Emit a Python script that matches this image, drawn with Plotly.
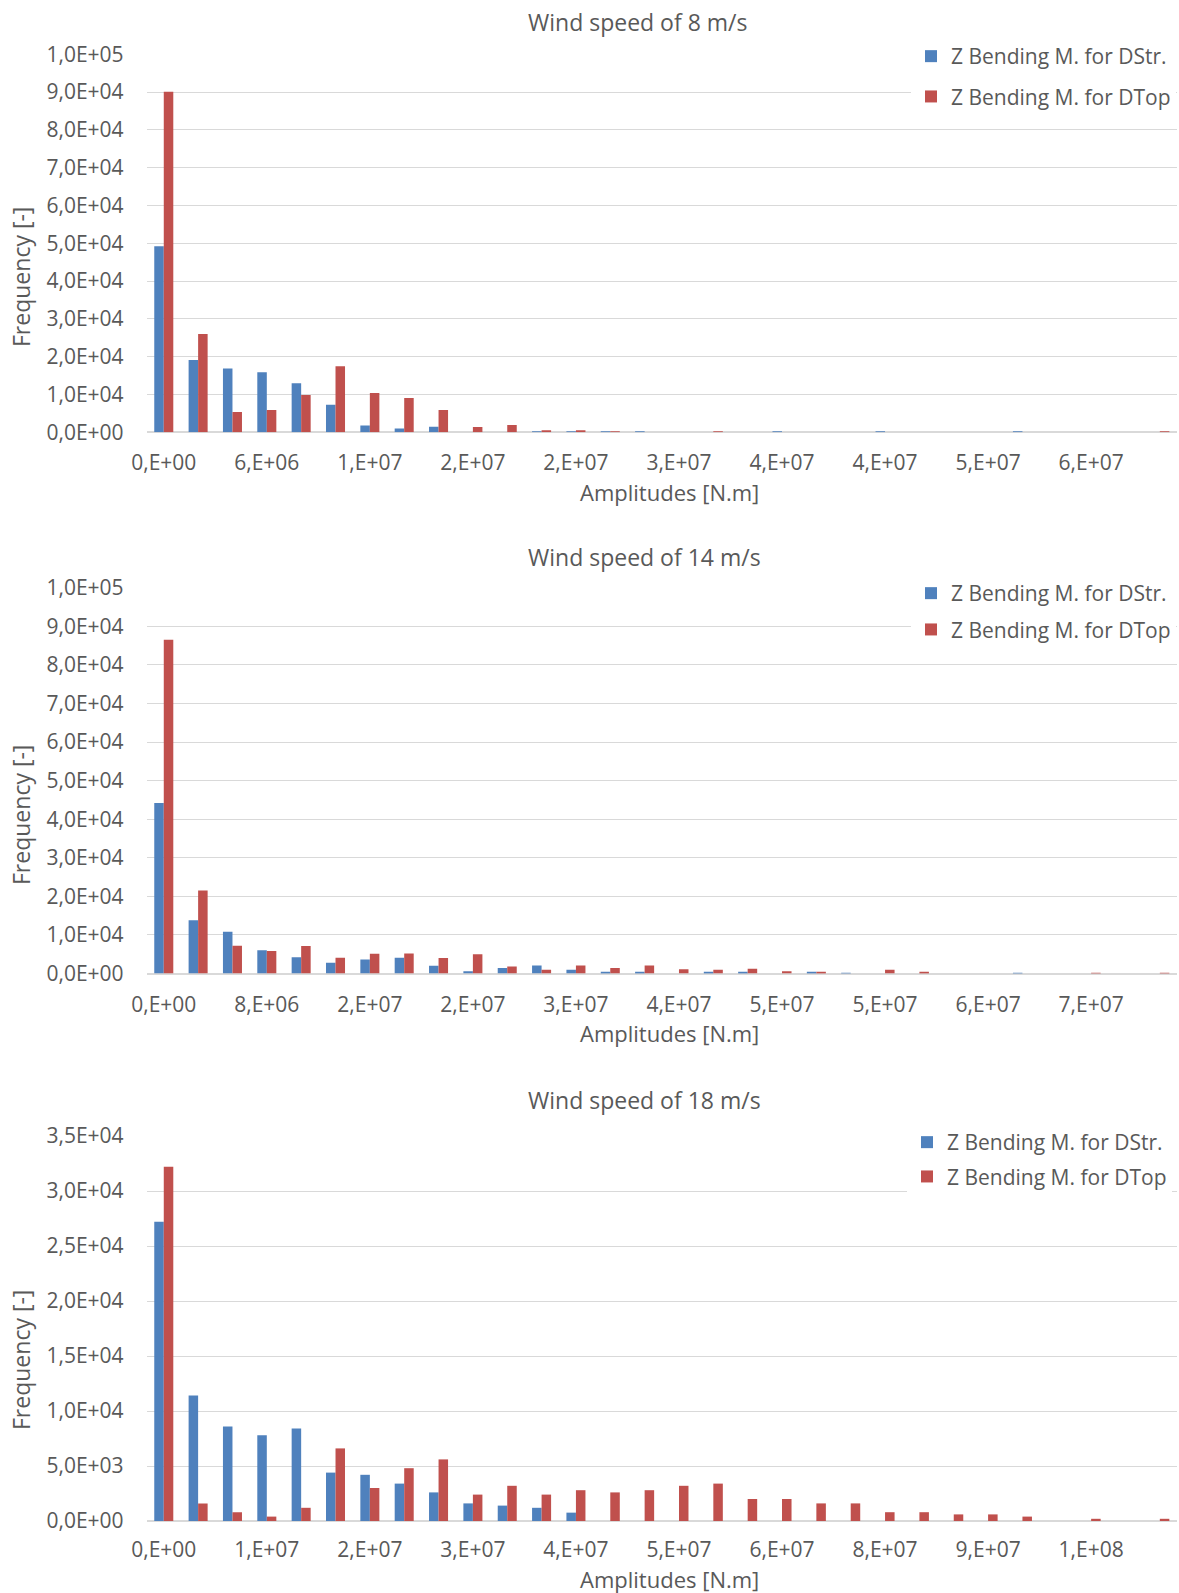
import plotly.graph_objects as go

# ---------------- data ----------------
bins = list(range(30))

ws8_dstr = [49200, 19100, 16900, 15900, 13000, 7300, 1800, 1000, 1500, 0,
            0, 200, 100, 50, 50, 0, 0, 0, 50, 0,
            0, 50, 0, 0, 0, 50, 0, 0, 0, 0]
ws8_dtop = [90100, 26000, 5400, 5900, 9900, 17500, 10400, 9100, 5900, 1400,
            1900, 300, 300, 100, 0, 0, 50, 0, 0, 0,
            0, 0, 0, 0, 0, 0, 0, 0, 0, 50]
ws8_xlabels = ["0,E+00", "6,E+06", "1,E+07", "2,E+07", "2,E+07",
               "3,E+07", "4,E+07", "4,E+07", "5,E+07", "6,E+07"]

ws14_dstr = [44200, 13800, 10800, 6000, 4200, 2800, 3600, 4100, 2000, 600,
             1400, 2100, 1000, 260, 400, 0, 400, 260, 0, 260,
             100, 0, 0, 0, 0, 100, 0, 0, 0, 0]
ws14_dtop = [86500, 21500, 7200, 5800, 7100, 4100, 5100, 5200, 4000, 5000,
             1800, 950, 2100, 1400, 2100, 1100, 1000, 1200, 600, 260,
             0, 1000, 250, 0, 0, 0, 0, 100, 0, 100]
ws14_xlabels = ["0,E+00", "8,E+06", "2,E+07", "2,E+07", "3,E+07",
                "4,E+07", "5,E+07", "5,E+07", "6,E+07", "7,E+07"]

ws18_dstr = [27200, 11400, 8600, 7800, 8400, 4400, 4200, 3400, 2600, 1600,
             1400, 1200, 760, 0, 0, 0, 0, 0, 0, 0,
             0, 0, 0, 0, 0, 0, 0, 0, 0, 0]
ws18_dtop = [32200, 1600, 800, 400, 1200, 6600, 3000, 4800, 5600, 2400,
             3200, 2400, 2800, 2600, 2800, 3200, 3400, 2000, 2000, 1600,
             1600, 800, 800, 600, 600, 400, 0, 200, 0, 200]
ws18_xlabels = ["0,E+00", "1,E+07", "2,E+07", "3,E+07", "4,E+07",
                "5,E+07", "6,E+07", "8,E+07", "9,E+07", "1,E+08"]

xtick_pos = [0, 3, 6, 9, 12, 15, 18, 21, 24, 27]

y_ticks_1e5 = [0, 10000, 20000, 30000, 40000, 50000, 60000, 70000, 80000, 90000, 100000]
y_labels_1e5 = ["0,0E+00", "1,0E+04", "2,0E+04", "3,0E+04", "4,0E+04", "5,0E+04",
                "6,0E+04", "7,0E+04", "8,0E+04", "9,0E+04", "1,0E+05"]
y_ticks_35 = [0, 5000, 10000, 15000, 20000, 25000, 30000, 35000]
y_labels_35 = ["0,0E+00", "5,0E+03", "1,0E+04", "1,5E+04", "2,0E+04",
               "2,5E+04", "3,0E+04", "3,5E+04"]

titles = ["Wind speed of 8 m/s", "Wind speed of 14 m/s", "Wind speed of 18 m/s"]
series_names = ["Z Bending M. for DStr.", "Z Bending M. for DTop"]

# ---------------- styling ----------------
W, H = 1179, 1593
FONT = "Open Sans"
TXT = "#595959"
GRID = "#d9d9d9"
BLUE = "#4f81bd"
RED = "#c0504d"

def px_x(v):
    return v / W

def px_y(v):
    return 1 - v / H

panels = [
    dict(dstr=ws8_dstr, dtop=ws8_dtop, xl=ws8_xlabels, yt=y_ticks_1e5, yl=y_labels_1e5,
         ymax=100000, top=54.3, bot=432.3, title_xy=(638, 22), ytitle_y=277, xtitle_y=492,
         leg_x=911, leg_y=36, gap=10, xstand=16),
    dict(dstr=ws14_dstr, dtop=ws14_dtop, xl=ws14_xlabels, yt=y_ticks_1e5, yl=y_labels_1e5,
         ymax=100000, top=587.7, bot=973.5, title_xy=(644.5, 557), ytitle_y=815, xtitle_y=1033,
         leg_x=911, leg_y=573, gap=6, xstand=16),
    dict(dstr=ws18_dstr, dtop=ws18_dtop, xl=ws18_xlabels, yt=y_ticks_35, yl=y_labels_35,
         ymax=35000, top=1136, bot=1521, title_xy=(644.5, 1100), ytitle_y=1360, xtitle_y=1578.5,
         leg_x=907, leg_y=1122, gap=4, xstand=14),
]

fig = go.Figure()
annotations = []
layout_updates = {}

for i, p in enumerate(panels):
    n = i + 1
    xa = "x" if n == 1 else f"x{n}"
    ya = "y" if n == 1 else f"y{n}"
    leg = "legend" if n == 1 else f"legend{n}"
    for name, vals, col in [(series_names[0], p["dstr"], BLUE), (series_names[1], p["dtop"], RED)]:
        fig.add_trace(go.Bar(
            x=bins, y=vals, name=name, marker=dict(color=col, line=dict(width=0)),
            xaxis=xa, yaxis=ya, legend=leg, legendgroup=f"{name}{n}",
        ))
    xkey = "xaxis" if n == 1 else f"xaxis{n}"
    ykey = "yaxis" if n == 1 else f"yaxis{n}"
    layout_updates[xkey] = dict(
        domain=[px_x(146.6), px_x(1177)], anchor=ya, range=[-0.5, 29.5],
        tickmode="array", tickvals=xtick_pos, ticktext=p["xl"],
        showgrid=False, zeroline=False, showline=False, ticks="",
        ticklabelstandoff=p["xstand"], automargin=False,
        tickfont=dict(family=FONT, size=21, color=TXT),
    )
    layout_updates[ykey] = dict(
        domain=[px_y(p["bot"]), px_y(p["top"])], anchor=xa, range=[0, p["ymax"]],
        tickmode="array", tickvals=p["yt"], ticktext=p["yl"],
        showgrid=True, gridcolor=GRID, gridwidth=1.4,
        zeroline=True, zerolinecolor=GRID, zerolinewidth=1.6,
        showline=False, ticks="", ticklabelstandoff=22, automargin=False,
        tickfont=dict(family=FONT, size=21, color=TXT),
    )
    layout_updates[leg] = dict(
        x=px_x(p["leg_x"]), y=px_y(p["leg_y"]), xanchor="left", yanchor="top",
        bgcolor="white", borderwidth=0, traceorder="grouped", tracegroupgap=p["gap"],
        font=dict(family=FONT, size=21, color=TXT), itemclick=False,
    )
    tx, ty = p["title_xy"]
    annotations.append(dict(text=titles[i], x=px_x(tx), y=px_y(ty), xref="paper", yref="paper",
                            xanchor="center", yanchor="middle", showarrow=False,
                            font=dict(family=FONT, size=23, color=TXT)))
    annotations.append(dict(text="Frequency [-]", x=px_x(21), y=px_y(p["ytitle_y"]),
                            xref="paper", yref="paper", xanchor="center", yanchor="middle",
                            textangle=-90, showarrow=False,
                            font=dict(family=FONT, size=23, color=TXT)))
    annotations.append(dict(text="Amplitudes [N.m]", x=px_x(669), y=px_y(p["xtitle_y"]),
                            xref="paper", yref="paper", xanchor="center", yanchor="middle",
                            showarrow=False, font=dict(family=FONT, size=22, color=TXT)))

fig.update_layout(
    width=W, height=H, margin=dict(l=0, r=0, t=0, b=0, pad=0, autoexpand=False),
    paper_bgcolor="white", plot_bgcolor="white",
    barmode="group", bargap=0.446, bargroupgap=0,
    showlegend=True, annotations=annotations,
    font=dict(family=FONT, color=TXT),
    **layout_updates,
)

fig.write_html("out.html", config={"displayModeBar": False},
               post_script="document.body.style.margin='0px';document.body.style.padding='0px';")
